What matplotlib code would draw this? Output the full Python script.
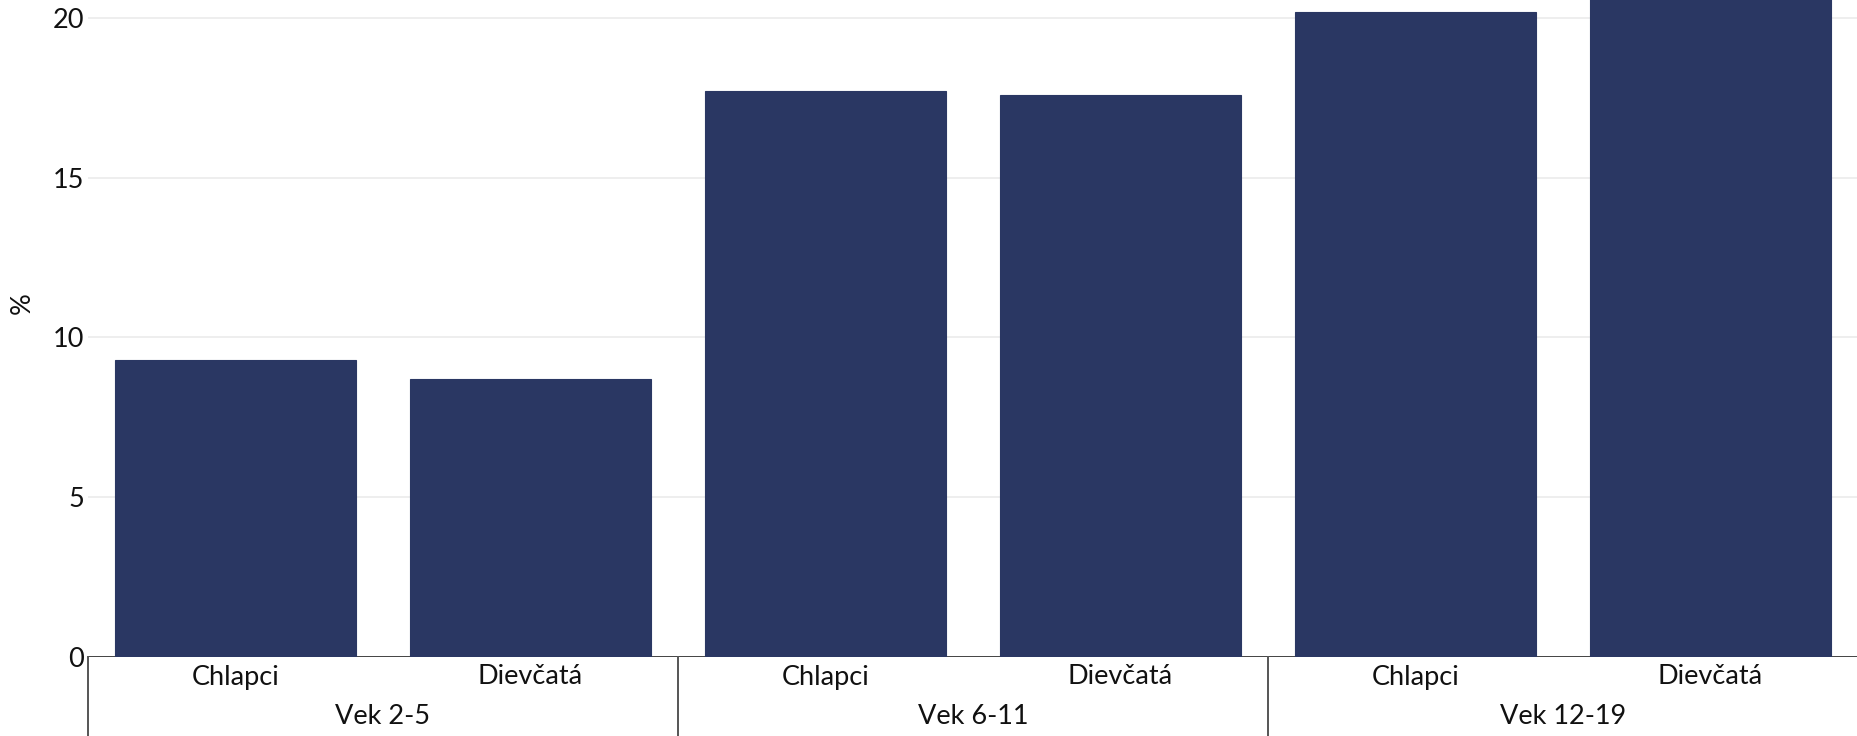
import matplotlib
matplotlib.use("Agg")
import matplotlib.pyplot as plt
import matplotlib.transforms as mtransforms

plt.rcParams['font.family'] = ['Lato', 'DejaVu Sans']

groups = ["Vek 2-5", "Vek 6-11", "Vek 12-19"]
sexes = ["Chlapci", "Dievčatá"]
values = [9.3, 8.7, 17.7, 17.6, 20.2, 21.0]
yticks = [0, 5, 10, 15, 20]

W, H = 1858, 736
FS = 19.5
fig = plt.figure(figsize=(W / 100, H / 100), dpi=100)
left, bottom = 88, 657
ax = fig.add_axes([left / W, (H - bottom) / H, (W - left) / W, bottom / H])

bar_color = "#2a3763"
x = list(range(len(values)))
ax.bar(x, values, width=0.82, color=bar_color, edgecolor=bar_color,
       linewidth=0.8, zorder=3)

ax.set_xlim(-0.5, len(values) - 0.5)
ax.set_ylim(0, 20.56)
ax.set_yticks(yticks)
ax.set_yticklabels([str(t) for t in yticks], fontsize=FS, color="#111111")
ax.tick_params(axis='y', length=0, pad=3)
ax.tick_params(axis='x', length=0, labelbottom=False)
ax.grid(axis='y', color="#ebebeb", linewidth=1.2, zorder=0)
ax.set_axisbelow(True)
for s in ax.spines.values():
    s.set_visible(False)
ax.axhline(0, color="#444444", linewidth=1.4, zorder=2)

ax.set_ylabel("%", fontsize=FS, color="#111111")
ax.yaxis.set_label_coords(-53 / (W - left), (657 - 303) / 657)

trans = mtransforms.blended_transform_factory(ax.transData, ax.transAxes)
h = bottom
for i, v in enumerate(values):
    ax.text(i, -(677 - bottom) / h, sexes[i % 2], transform=trans,
            ha='center', va='center', fontsize=FS, color="#111111")
for g, name in enumerate(groups):
    ax.text(2 * g + 0.5, -(717 - bottom) / h, name, transform=trans,
            ha='center', va='center', fontsize=FS, color="#111111")
for g in range(len(groups) + 1):
    xs = 2 * g - 0.5
    ax.plot([xs, xs], [0, -(H - bottom + 5) / h], transform=trans,
            color="#555555", linewidth=1.4, clip_on=False, zorder=2)

fig.savefig("out.png", dpi=100)
